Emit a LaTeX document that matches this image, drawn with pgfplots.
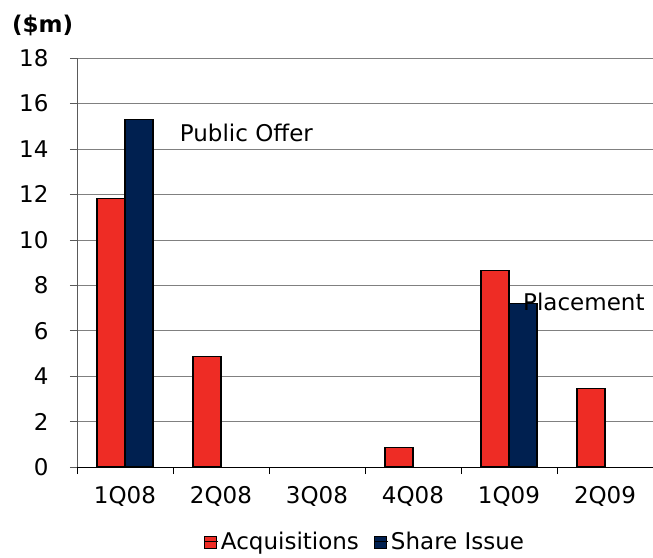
\documentclass[border=0pt]{standalone}
\usepackage{pgfplots}
\pgfplotsset{compat=1.18}
\usepackage{fontspec}
\setmainfont{DejaVu Sans}
\definecolor{acqred}{RGB}{238,44,37}
\definecolor{sharenavy}{RGB}{0,32,80}
\definecolor{gridgray}{RGB}{128,128,128}
\newcommand{\chartfont}{\fontsize{23bp}{27bp}\selectfont}
\begin{document}
\begin{tikzpicture}
\path[use as bounding box] (-77bp,-91bp) rectangle (576bp,467bp);
\begin{axis}[
  at={(0,0)}, anchor=south west,
  scale only axis,
  width=576bp, height=409bp,
  xmin=-0.5, xmax=5.5,
  ymin=0, ymax=18,
  ytick={0,2,...,18},
  xtick={0,...,5},
  xticklabels={1Q08,2Q08,3Q08,4Q08,1Q09,2Q09},
  minor xtick={-0.5,0.5,...,5.5},
  major x tick style={draw=none},
  minor x tick style={draw=black, thin},
  minor tick length=7bp,
  major tick length=7bp,
  tick align=outside,
  axis lines*=left,
  axis line style={-, draw=black, thin},
  y axis line style={draw=gridgray!70!black},
  ymajorgrids,
  grid style={gridgray, thin},
  ytick style={draw=gridgray!70!black, thin},
  yticklabel style={xshift=-18bp},
  xticklabel style={yshift=-9bp},
  tick label style={font=\chartfont},
  /pgf/number format/assume math mode=true,
  ybar=0pt, bar width=28bp,
  legend columns=2,
  legend style={draw=none, fill=none, at={(0.5,-0.183)}, anchor=center,
    font=\chartfont, inner sep=0pt,
    /tikz/every even column/.append style={column sep=13bp}},
  legend image code/.code={%
    \draw[#1, draw=black, thin] (0bp,-6bp) rectangle (12bp,6bp);
    \path (0bp,0bp) -- (14bp,0bp);},
]
% Acquisitions by quarter ($m)
\addplot[fill=acqred, draw=black, line width=1.1bp]
  coordinates {(0,11.8) (1,4.85) (3,0.85) (4,8.65) (5,3.45)};
% Share issues: public offer and placement ($m)
\addplot[fill=sharenavy, draw=black, line width=1.1bp]
  coordinates {(0,15.3) (4,7.2)};
\legend{Acquisitions, Share Issue}
\node[anchor=west, inner sep=0pt, font=\chartfont] at (axis cs:0.57,14.7) {Public Offer};
\node[anchor=west, inner sep=0pt, font=\chartfont] at (axis cs:4.146,7.26) {Placement};
\end{axis}
\node[anchor=west, inner sep=0pt, font=\chartfont\bfseries] at (-65bp,442bp) {(\$m)};
\end{tikzpicture}
\end{document}
